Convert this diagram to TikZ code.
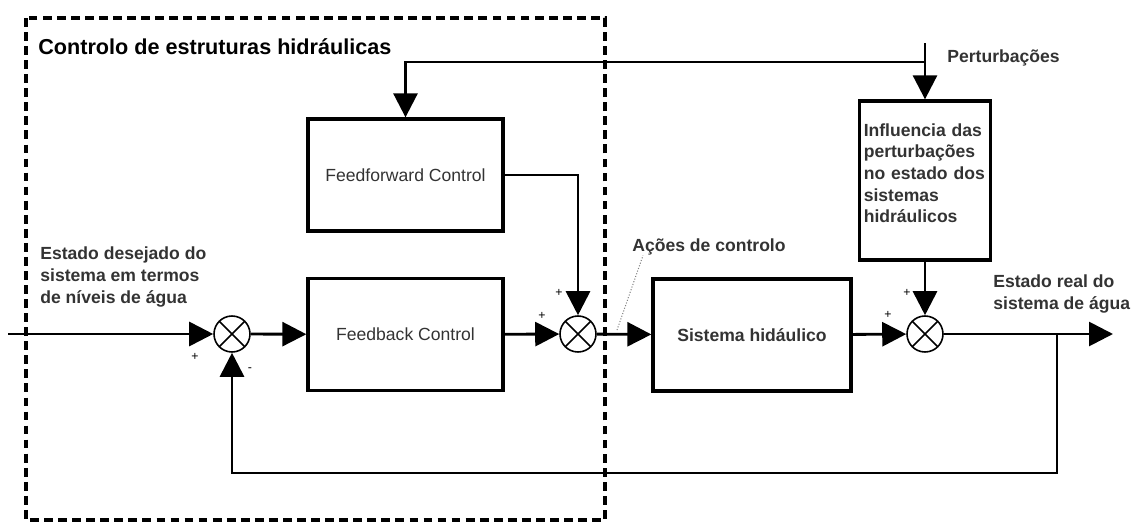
\documentclass[tikz,border=0pt]{standalone}
\usepackage{fontspec}
\setmainfont{Liberation Sans}
\usetikzlibrary{arrows.meta,positioning}

\begin{document}
\begin{tikzpicture}[x=0.02cm,y=-0.02cm,
  bloco/.style={draw,line width=1.9pt,minimum width=3.9cm,minimum height=2.24cm,
    inner sep=2pt,font=\fontsize{10}{12}\selectfont,text=black!80},
  soma/.style={draw,circle,line width=0.9pt,minimum size=0.72cm,inner sep=0pt,
    path picture={\draw[line width=0.9pt]
      (path picture bounding box.north west) -- (path picture bounding box.south east)
      (path picture bounding box.north east) -- (path picture bounding box.south west);}},
  seta/.style={line width=1.6pt,-{Triangle[length=0.48cm,width=0.48cm]}},
  rotulo/.style={font=\bfseries\fontsize{10}{12.3}\selectfont,text=black!80,
    align=left,inner sep=0pt,anchor=west},
  sinal/.style={font=\fontsize{7}{8}\selectfont,inner sep=0pt}]

\useasboundingbox (0,0) rectangle (1136,524);

% Controlo de estruturas
\draw[line width=1.8pt,dash pattern=on 5pt off 3pt] (26,18) rectangle (605,520);
\node[rotulo,font=\bfseries\fontsize{12.3}{14}\selectfont,text=black] (titulo) at (38,47)
  {Controlo de estruturas hidráulicas};

% Blocos
\node[bloco] (ff) at (405.5,175) {Feedforward Control};
\node[bloco] (fb) at (405.5,334.5) {Feedback Control};
\node[bloco,minimum width=3.96cm,font=\bfseries\fontsize{10}{12}\selectfont] (sis) at (752,335)
  {Sistema hidáulico};
\node[bloco,minimum width=2.62cm,minimum height=3.18cm,align=left,text width=2.45cm,
  font=\bfseries\fontsize{10}{12.3}\selectfont] (infl) at (925,180.5)
  {Influencia das\\perturbações\\no estado dos\\sistemas\\hidráulicos\\[-4pt]\mbox{}};

% Somadores
\node[soma] (s1) at (232,334) {};
\node[soma] (s2) at (578,334) {};
\node[soma] (s3) at (925,334) {};

% Pontos livres
\coordinate (ent) at (8,334);
\coordinate (sai) at (1113,334);
\coordinate (ram) at (1057,334);
\coordinate (ret) at (232,473);
\coordinate (pert) at (925,43);
\coordinate (disp) at (925,62);

% Ligacoes
\draw[seta] (ent) -- (s1);
\draw[seta] (s1) -- (fb);
\draw[seta] (fb) -- (s2);
\draw[seta] (ff.east) -| (s2);
\draw[seta] (s2) -- (sis);
\draw[seta] (sis) -- (s3);
\draw[seta] (infl) -- (s3);
\draw[seta] (s3) -- (sai);
\draw[seta] (ram) |- (ret) -- (s1);
\draw[seta] (pert) -- (infl);
\draw[seta] (disp) -| (ff);

% Textos
\node[rotulo] (desejado) at (40,277) {Estado desejado do\\sistema em termos\\de níveis de água};
\node[rotulo] (real) at (993,294) {Estado real do\\sistema de água};
\node[rotulo] (perttxt) at (947,58) {Perturbações};
\node[rotulo] (acoes) at (632,247) {Ações de controlo};
\draw[densely dotted,gray,line width=0.6pt] (617,330) -- (acoes.south west -| 643,0);

% Sinais
\node[sinal] (p1) at (195,357) {+};
\node[sinal] (m1) at (250,370) {-};
\node[sinal] (p2a) at (542,316) {+};
\node[sinal] (p2b) at (559,293) {+};
\node[sinal] (p3a) at (888,315) {+};
\node[sinal] (p3b) at (907,293) {+};

\end{tikzpicture}
\end{document}
